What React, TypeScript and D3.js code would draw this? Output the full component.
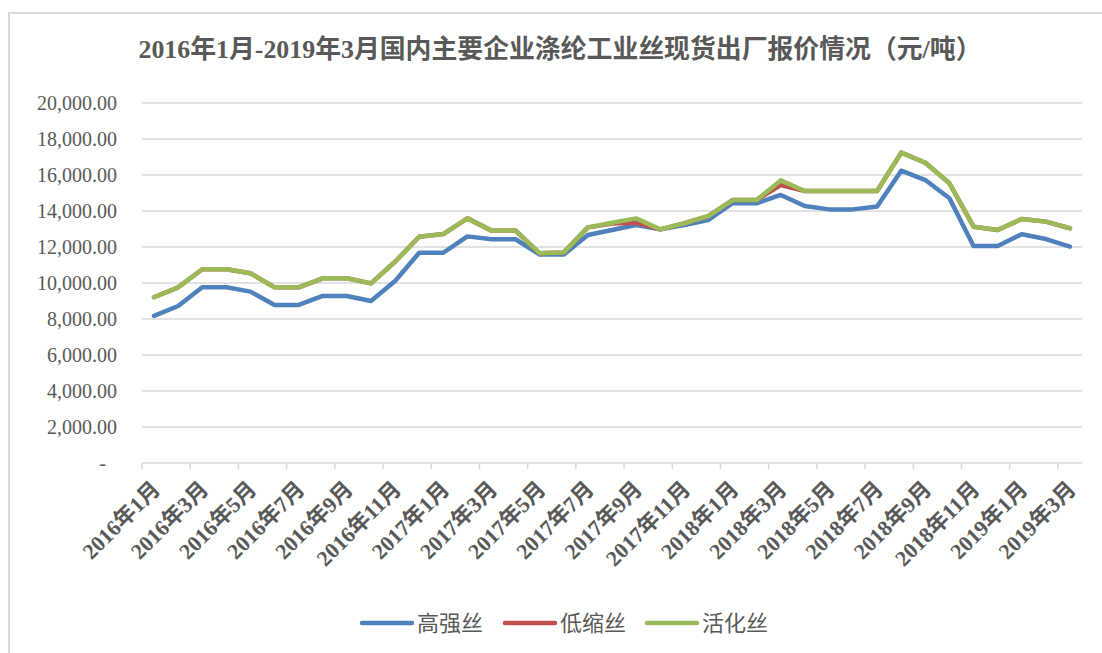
import React, { useEffect, useRef } from "react";
import * as d3 from "d3";

const months: string[] = [];
for (let y = 2016; y <= 2019; y++) {
  for (let m = 1; m <= 12; m++) {
    if (y === 2019 && m > 3) break;
    months.push(`${y}年${m}月`);
  }
}

// 高强丝
const highTenacity = [
  8170, 8720, 9760, 9760, 9520, 8780, 8780, 9280, 9280, 9000,
  10110, 11680, 11680, 12590, 12430, 12430, 11580, 11580, 12670, 12940,
  13220, 12980, 13220, 13500, 14430, 14430, 14890, 14280, 14090, 14090,
  14250, 16240, 15720, 14710, 12060, 12060, 12710, 12440, 12020,
];

// 低缩丝
const lowShrink = [
  9210, 9760, 10760, 10760, 10540, 9760, 9760, 10260, 10260, 9980,
  11180, 12570, 12720, 13590, 12910, 12910, 11650, 11700, 13090, 13300,
  13350, 12980, 13320, 13720, 14610, 14610, 15440, 15110, 15110, 15110,
  15110, 17240, 16680, 15540, 13130, 12940, 13560, 13410, 13040,
];

// 活化丝
const activated = [
  9210, 9760, 10760, 10760, 10540, 9760, 9760, 10260, 10260, 9980,
  11180, 12570, 12720, 13590, 12910, 12910, 11650, 11700, 13090, 13350,
  13590, 12980, 13320, 13720, 14610, 14610, 15700, 15110, 15110, 15110,
  15110, 17240, 16680, 15540, 13130, 12940, 13560, 13410, 13040,
];

const yTicks = [0, 2000, 4000, 6000, 8000, 10000, 12000, 14000, 16000, 18000, 20000];

const seriesNames = ["高强丝", "低缩丝", "活化丝"];
const seriesColors = ["#4F81BD", "#C0504D", "#9BBB59"];

const TITLE = "2016年1月-2019年3月国内主要企业涤纶工业丝现货出厂报价情况（元/吨）";

const W = 1102;
const H = 653;
const SERIF = "'Liberation Serif', 'Noto Sans CJK SC', serif";
const TEXT = "#595959";
const GRID = "#d9d9d9";

export default function App() {
  const ref = useRef<SVGSVGElement | null>(null);

  useEffect(() => {
    const svg = d3.select(ref.current);
    svg.selectAll("*").remove();

    const left = 142, right = 1082, top = 103, bottom = 463;

    const x = d3.scaleBand<string>().domain(months).range([left, right]).padding(0);
    const y = d3.scaleLinear().domain([0, 20000]).range([bottom, top]);

    // frame
    svg.append("rect")
      .attr("x", 9).attr("y", 13)
      .attr("width", W).attr("height", H)
      .attr("fill", "#fff")
      .attr("stroke", GRID).attr("stroke-width", 2);

    // title
    svg.append("text")
      .attr("x", 560).attr("y", 58)
      .attr("text-anchor", "middle")
      .attr("font-family", SERIF)
      .attr("font-weight", "bold")
      .attr("font-size", 26)
      .attr("fill", TEXT)
      .attr("textLength", 843)
      .attr("lengthAdjust", "spacingAndGlyphs")
      .text(TITLE);

    // grid
    svg.append("g")
      .selectAll("line")
      .data(yTicks.filter(d => d > 0))
      .join("line")
      .attr("x1", left).attr("x2", right)
      .attr("y1", d => y(d)).attr("y2", d => y(d))
      .attr("stroke", GRID).attr("stroke-width", 1.5);

    // y labels
    const fmt = d3.format(",.2f");
    svg.append("g")
      .selectAll("text")
      .data(yTicks)
      .join("text")
      .attr("x", d => (d === 0 ? 106 : 117))
      .attr("y", d => y(d))
      .attr("dy", "0.35em")
      .attr("text-anchor", "end")
      .attr("font-family", SERIF)
      .attr("font-size", 20)
      .attr("fill", TEXT)
      .text(d => (d === 0 ? "-" : fmt(d)));

    // x axis
    svg.append("line")
      .attr("x1", left).attr("x2", right)
      .attr("y1", bottom).attr("y2", bottom)
      .attr("stroke", GRID).attr("stroke-width", 1.5);

    const labelled = months.filter((_, i) => i % 2 === 0);
    svg.append("g")
      .selectAll("line")
      .data(labelled)
      .join("line")
      .attr("x1", d => x(d)!).attr("x2", d => x(d)!)
      .attr("y1", bottom).attr("y2", bottom + 6)
      .attr("stroke", GRID).attr("stroke-width", 1.5);

    svg.append("g")
      .selectAll("text")
      .data(labelled)
      .join("text")
      .attr("transform", d => `translate(${x(d)! + x.bandwidth() / 2 + 2},${bottom + 22}) rotate(-45)`)
      .attr("dy", "0.35em")
      .attr("text-anchor", "end")
      .attr("font-family", SERIF)
      .attr("font-weight", "bold")
      .attr("font-size", 22)
      .attr("fill", TEXT)
      .text(d => d);

    // lines
    const line = d3.line<number>()
      .x((_, i) => x(months[i])! + x.bandwidth() / 2)
      .y(d => y(d));

    [highTenacity, lowShrink, activated].forEach((vals, k) => {
      svg.append("path")
        .datum(vals)
        .attr("d", line)
        .attr("fill", "none")
        .attr("stroke", seriesColors[k])
        .attr("stroke-width", 4.5)
        .attr("stroke-linejoin", "round")
        .attr("stroke-linecap", "round");
    });

    // legend
    const legendX = [362, 505, 647];
    const legY = 623;
    seriesNames.forEach((name, k) => {
      svg.append("line")
        .attr("x1", legendX[k]).attr("x2", legendX[k] + 50)
        .attr("y1", legY).attr("y2", legY)
        .attr("stroke", seriesColors[k])
        .attr("stroke-width", 4.5)
        .attr("stroke-linecap", "round");
      svg.append("text")
        .attr("x", legendX[k] + 55)
        .attr("y", legY)
        .attr("dy", "0.36em")
        .attr("font-family", SERIF)
        .attr("font-size", 22)
        .attr("fill", TEXT)
        .text(name);
    });
  }, []);

  return (
    <svg
      ref={ref}
      width={W}
      height={H}
      style={{ position: "absolute", left: 0, top: 0, background: "#fff" }}
    />
  );
}
